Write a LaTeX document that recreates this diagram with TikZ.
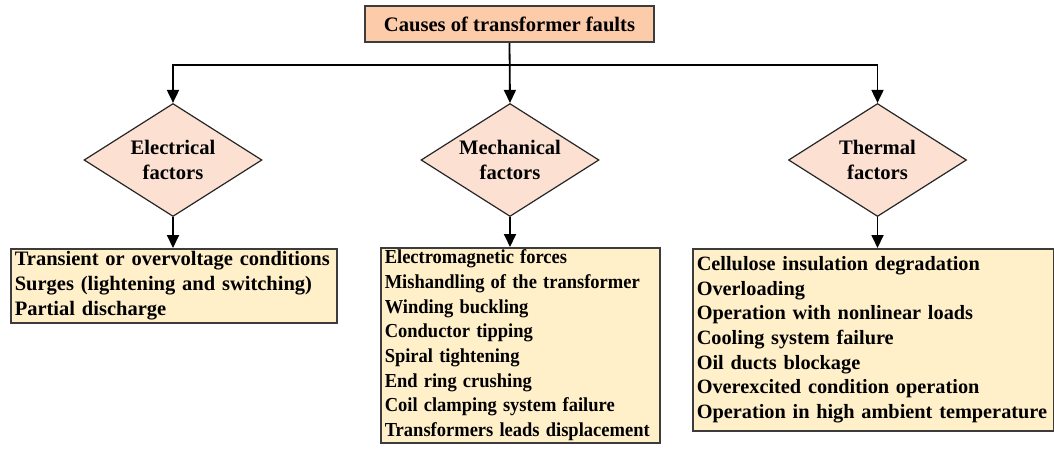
\documentclass[tikz,border=0pt]{standalone}
\usepackage{graphicx}
\usepackage{fontspec}
\setmainfont{Liberation Serif}
\usetikzlibrary{shapes.geometric,arrows.meta}
\definecolor{topfill}{RGB}{251,203,170}
\definecolor{diafill}{RGB}{252,224,210}
\definecolor{listfill}{RGB}{255,240,202}
\definecolor{edge}{RGB}{60,60,60}
\newcommand{\itemline}[1]{\mbox{#1}}
\newcommand{\narrowline}[1]{\scalebox{0.935}[1]{#1}}
\tikzset{
  every node/.style={font=\bfseries\fontsize{20.6}{24.7}\selectfont},
  topbox/.style={draw=edge, line width=2pt, fill=topfill, minimum width=289pt, minimum height=36pt, inner sep=0pt},
  factor/.style={diamond, draw=black!85, line width=1.2pt, fill=diafill, aspect=1.58, inner sep=0pt, minimum width=178pt, minimum height=113pt, align=center},
  listbox/.style={draw=edge, line width=1.5pt, fill=listfill, anchor=north west, align=left, inner xsep=4pt, inner ysep=2pt},
  arr/.style={line width=1.8pt, -{Triangle[width=12pt,length=13pt]}}
}
\begin{document}
\begin{tikzpicture}[x=1pt,y=-1pt]
\useasboundingbox (0,0) rectangle (1054,448);
\node[topbox] (top) at (509.5,24) {Causes of transformer faults};
\coordinate (hub) at (509.5,65);
\node[factor] (elec) at (173,160) {Electrical\\factors};
\node[factor] (mech) at (510,160) {Mechanical\\factors};
\node[factor] (therm) at (877.5,160) {Thermal\\factors};
\node[listbox, text width=318pt, minimum height=74pt, font=\bfseries\fontsize{20.5}{24.7}\selectfont] (l1) at (10,248) {\itemline{Transient or overvoltage conditions}\\\itemline{Surges (lightening and switching)}\\\itemline{Partial discharge}};
\node[listbox, text width=271pt, minimum height=191pt, font=\bfseries\fontsize{19.8}{24.7}\selectfont] (l2) at (380,247) {\narrowline{Electromagnetic forces}\\\narrowline{Mishandling of the transformer}\\\narrowline{Winding buckling}\\\narrowline{Conductor tipping}\\\narrowline{Spiral tightening}\\\narrowline{End ring crushing}\\\narrowline{Coil clamping system failure}\\\narrowline{Transformers leads displacement}};
\node[listbox, text width=353pt, minimum height=182pt, font=\bfseries\fontsize{20.3}{24.7}\selectfont] (l3) at (692,248) {\itemline{Cellulose insulation degradation}\\\itemline{Overloading}\\\itemline{Operation with nonlinear loads}\\\itemline{Cooling system failure}\\\itemline{Oil ducts blockage}\\\itemline{Overexcited condition operation}\\\itemline{Operation in high ambient temperature}};
\draw[arr] (top.south) -- (mech.north);
\draw[arr] (hub) -| (elec.north);
\draw[arr] (hub) -| (therm.north);
\draw[arr] (elec.south) -- (elec.south |- l1.north);
\draw[arr] (mech.south) -- (mech.south |- l2.north);
\draw[arr] (therm.south) -- (therm.south |- l3.north);
\end{tikzpicture}
\end{document}
